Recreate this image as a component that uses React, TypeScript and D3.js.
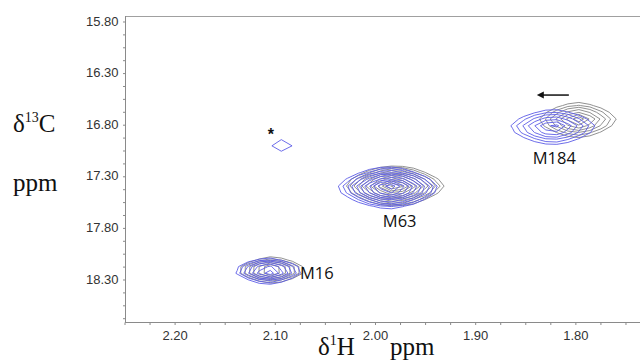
import React, { useEffect, useRef } from 'react';
import * as d3 from 'd3';

// tick values
const xTicks = [2.2, 2.1, 2.0, 1.9, 1.8];
const yTicks = [15.8, 16.3, 16.8, 17.3, 17.8, 18.3];

// peak labels (left edge / baseline, ppm)
const labelNames = ['M16', 'M63', 'M184'];
const labelH = [2.0753, 1.9927, 1.843];
const labelC = [18.29, 17.787, 17.176];

// reference spectrum (grey) peaks
const grayH = [2.1033, 1.9805, 1.798];
const grayC = [18.203, 17.389, 16.75];
const graySdH = [0.018, 0.018, 0.0236];
const graySdC = [0.066, 0.0723, 0.103];
const grayAmp = [0.5, 1.17, 0.4];

// shifted spectrum (blue) peaks, last one is the small * peak
const blueH = [2.1073, 1.9865, 1.823, 2.0933];
const blueC = [18.213, 17.409, 16.818, 16.995];
const blueSdH = [0.018, 0.0179, 0.026, 0.045];
const blueSdC = [0.066, 0.0723, 0.103, 0.25];
const blueAmp = [0.5, 1.17, 0.4, 0.1];

const contourLevels = [0.08, 0.1, 0.125, 0.156, 0.195, 0.244, 0.305, 0.381, 0.477, 0.596, 0.745, 0.931, 1.164];

const width = 640;
const height = 362;
const plot = { left: 125, top: 16, right: 641, bottom: 322 };

// grid for the contour field
const gridH0 = 2.27;
const gridC0 = 15.7;
const dH = 0.011;
const dC = 0.065;
const nx = 52;
const ny = 50;
const shapeP = 1.6;

const buildField = (hs, cs, sdh, sdc, amps) => {
  const values = new Array(nx * ny);
  for (let j = 0; j < ny; j++) {
    const c = gridC0 + j * dC;
    for (let i = 0; i < nx; i++) {
      const h = gridH0 - i * dH;
      let v = 0;
      hs.forEach((h0, k) => {
        const a = Math.abs((h - h0) / sdh[k]);
        const b = Math.abs((c - cs[k]) / sdc[k]);
        const r = Math.pow(Math.pow(a, shapeP) + Math.pow(b, shapeP), 1 / shapeP);
        v += amps[k] * Math.exp(-r);
      });
      values[j * nx + i] = v;
    }
  }
  return values;
};

const App = () => {
  const ref = useRef(null);

  useEffect(() => {
    const svg = d3.select(ref.current);
    svg.selectAll('*').remove();

    const x = d3.scaleLinear().domain([2.25, 1.735]).range([plot.left, plot.right]);
    const y = d3.scaleLinear().domain([15.742, 18.707]).range([plot.top, plot.bottom]);

    const toPx = d3.geoTransform({
      point: function (gx, gy) {
        this.stream.point(x(gridH0 - (gx - 0.5) * dH), y(gridC0 + (gy - 0.5) * dC));
      }
    });
    const path = d3.geoPath(toPx);
    const contours = d3.contours().size([nx, ny]).thresholds(contourLevels);

    svg.append('line')
      .attr('x1', plot.left).attr('x2', plot.right)
      .attr('y1', plot.top + 0.5).attr('y2', plot.top + 0.5)
      .attr('stroke', '#a0a0a0');

    const layers = [
      { field: buildField(grayH, grayC, graySdH, graySdC, grayAmp), color: '#858585' },
      { field: buildField(blueH, blueC, blueSdH, blueSdC, blueAmp), color: '#5c5ce6' }
    ];

    layers.forEach(layer => {
      svg.append('g')
        .selectAll('path')
        .data(contours(layer.field))
        .enter().append('path')
        .attr('d', path)
        .attr('fill', 'none')
        .attr('stroke', layer.color)
        .attr('stroke-width', 0.9);
    });

    // axes
    const minorX = d3.range(0, 21).map(k => 2.25 - k * 0.025);
    const xAxis = svg.append('g').attr('transform', `translate(0,${plot.bottom + 0.5})`);
    xAxis.append('line').attr('x1', plot.left).attr('x2', plot.right).attr('stroke', '#8a8a8a');
    xAxis.selectAll('.mt').data(minorX).enter().append('line')
      .attr('x1', d => x(d)).attr('x2', d => x(d)).attr('y1', 0).attr('y2', 2.5)
      .attr('stroke', '#8a8a8a');
    xAxis.selectAll('text').data(xTicks).enter().append('text')
      .attr('x', d => x(d)).attr('y', 17)
      .attr('text-anchor', 'middle')
      .attr('font-family', 'Liberation Sans, Arial, sans-serif')
      .attr('font-size', 13)
      .attr('fill', '#333')
      .text(d => d3.format('.2f')(d));

    const minorY = d3.range(0, 24).map(k => 15.8 + k * 0.125);
    const yAxis = svg.append('g').attr('transform', `translate(${plot.left + 0.5},0)`);
    yAxis.append('line').attr('y1', plot.top).attr('y2', plot.bottom).attr('stroke', '#8a8a8a');
    yAxis.selectAll('.mt').data(minorY).enter().append('line')
      .attr('y1', d => y(d)).attr('y2', d => y(d)).attr('x1', -2.5).attr('x2', 0)
      .attr('stroke', '#8a8a8a');
    yAxis.selectAll('text').data(yTicks).enter().append('text')
      .attr('x', -7).attr('y', d => y(d) - 1)
      .attr('dy', '0.35em')
      .attr('text-anchor', 'end')
      .attr('font-family', 'Liberation Sans, Arial, sans-serif')
      .attr('font-size', 13)
      .attr('fill', '#333')
      .text(d => d3.format('.2f')(d));

    // peak labels
    svg.append('g').selectAll('text').data(labelNames).enter().append('text')
      .attr('x', (d, i) => x(labelH[i]))
      .attr('y', (d, i) => y(labelC[i]))
      .attr('font-family', 'Open Sans, sans-serif')
      .attr('font-size', 16.5)
      .attr('fill', '#111')
      .text(d => d);

    // asterisk over the small peak
    svg.append('text')
      .attr('x', x(2.1043)).attr('y', y(16.944))
      .attr('text-anchor', 'middle')
      .attr('font-family', 'Liberation Sans, Arial, sans-serif')
      .attr('font-size', 16)
      .attr('font-weight', 'bold')
      .attr('fill', '#111')
      .text('*');

    // arrow showing the shift direction
    const ax1 = x(1.839);
    const ax2 = x(1.807);
    const ay = y(16.508);
    svg.append('line')
      .attr('x1', ax1 + 4).attr('x2', ax2).attr('y1', ay).attr('y2', ay)
      .attr('stroke', '#111').attr('stroke-width', 1.5);
    svg.append('path')
      .attr('d', `M${ax1},${ay} l7,-3.5 l0,7 z`)
      .attr('fill', '#111');
  }, []);

  const serif = 'Liberation Serif, Times New Roman, serif';

  return (
    <svg width={width} height={height}
      style={{ position: 'absolute', left: 0, top: 0, background: '#fff' }}>
      <g ref={ref} />
      <g fontFamily={serif} fill="#111">
        <text x={13} y={132} fontSize={25}>
          δ<tspan fontSize={14} dy={-10}>13</tspan><tspan dy={10}>C</tspan>
        </text>
        <text x={13} y={191} fontSize={25}>ppm</text>
        <text x={318} y={355} fontSize={25}>
          δ<tspan fontSize={14} dy={-10}>1</tspan><tspan dy={10}>H</tspan>
        </text>
        <text x={390} y={355} fontSize={25}>ppm</text>
      </g>
    </svg>
  );
};

export default App;
